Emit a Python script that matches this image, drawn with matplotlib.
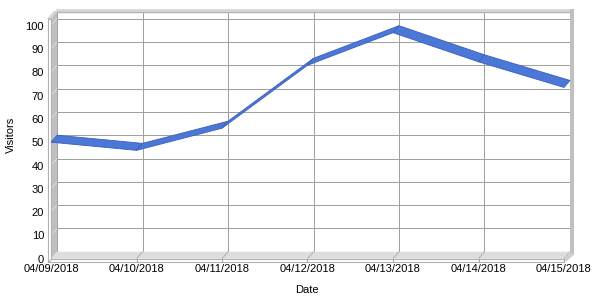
import matplotlib
matplotlib.use('Agg')
import matplotlib.pyplot as plt
from matplotlib.patches import Polygon
import numpy as np

# ---- data ----
dates = ["04/09/2018", "04/10/2018", "04/11/2018", "04/12/2018",
         "04/13/2018", "04/14/2018", "04/15/2018"]
visitors = [50, 46.5, 56, 83, 97, 84.5, 73.5]
y_ticks = list(range(0, 101, 10))

plt.rcParams['font.family'] = ['Liberation Sans', 'DejaVu Sans']

fig = plt.figure(figsize=(6, 3), dpi=100)
fig.patch.set_facecolor('white')
ax = fig.add_axes([51 / 600, 41.3 / 300, 513 / 600, 233 / 300])
ax.set_xlim(0, len(dates) - 1)
ax.set_ylim(0, 100)
for s in ax.spines.values():
    s.set_visible(False)
ax.patch.set_alpha(0)
ax.set_xticks(range(len(dates)))
ax.set_xticklabels(dates)
ax.set_yticks(y_ticks)
ax.set_yticklabels([str(v) for v in y_ticks])
ax.tick_params(axis='x', length=0, labelsize=8, pad=3.6)
ax.tick_params(axis='y', length=0, labelsize=8, pad=5.0)
ax.set_xlabel('Date', fontsize=8)
ax.set_ylabel('Visitors', fontsize=8)
ax.xaxis.set_label_coords(0.499, -0.114)
ax.yaxis.set_label_coords(-0.068, 0.53)

XMAX = len(dates) - 1
TOP = 103          # wall top in value units
BX, BY = 6, 7      # depth offset in pixels
GRID = '#a0a0a0'
WALL = '#c0c0c0'
FLOOR = '#dedede'


def D(x, y, dx=0.0, dy=0.0):
    p = ax.transData.transform((x, y)) + np.array([dx, dy])
    return ax.transData.inverted().transform(p)


def poly(pts, fc, ec='none', lw=0.0, z=1):
    ax.add_patch(Polygon([D(*p) for p in pts], closed=True, facecolor=fc,
                         edgecolor=ec, linewidth=lw, zorder=z, clip_on=False))


def line(p1, p2, color, lw=0.72, z=2):
    a, b = D(*p1), D(*p2)
    ax.plot([a[0], b[0]], [a[1], b[1]], color=color, lw=lw, zorder=z,
            clip_on=False, solid_capstyle='butt')


# back wall gridlines
for v in y_ticks:
    line((0, v, BX, BY), (XMAX, v, BX, BY), GRID, z=1.5)
for i in range(len(dates)):
    line((i, 0, BX, BY), (i, TOP, BX, BY), GRID, z=1.5)

# top band of back wall
poly([(0, TOP, BX, BY), (XMAX, TOP, BX + 4, BY), (XMAX, TOP, BX + 4, BY + 3),
      (0, TOP, BX - 1, BY + 3)], '#d8d8d8', z=2)
line((0, TOP, BX, BY), (XMAX, TOP, BX, BY), '#b4b4b4', lw=1.0, z=2.1)

# right wall band
poly([(XMAX, 0, BX, BY - 3), (XMAX, TOP, BX, BY + 3), (XMAX, TOP, BX + 4, BY + 3),
      (XMAX, 0, BX + 4, BY - 3)], WALL, z=2)

# left wall side face
poly([(0, 0), (0, TOP), (0, TOP, BX, BY), (0, 0, BX, BY)], WALL, z=2)
for v in y_ticks[1:]:
    line((0, v), (0, v, BX, BY), '#e0e0e0', lw=0.6, z=2.2)

# floor top face
poly([(0, 0), (XMAX, 0), (XMAX, 0, BX, BY), (0, 0, BX, BY)], FLOOR, z=2)
for i in range(1, len(dates)):
    line((i, 0), (i, 0, BX, BY), '#b0b0b0', lw=0.72, z=2.2)

# floor right end chamfer
poly([(XMAX, 0), (XMAX, 0, BX, BY), (XMAX, 0, BX + 4, BY - 3), (XMAX, 0, 2, -3)],
     '#d0d0d0', z=2.3)

# floor front face
poly([(0, 0, -3, 0), (XMAX, 0), (XMAX, 0, 0, -3), (0, 0, -3, -3)],
     'white', ec='#b0b0b0', lw=0.8, z=2.4)
for i in range(1, len(dates)):
    line((i, 0), (i, 0, 0, -3), '#a0a0a0', lw=0.72, z=2.5)

# left wall front face and top
poly([(0, 0, -3, -3), (0, TOP, -3, 0), (0, TOP), (0, 0)],
     'white', ec='#b0b0b0', lw=0.8, z=2.4)
poly([(0, TOP, -3, 0), (0, TOP), (0, TOP, BX, BY), (0, TOP, BX - 3, BY)],
     '#dcdcdc', ec='#c0c0c0', lw=0.5, z=2.4)

# ribbon line series
for i in range(len(visitors) - 1):
    pts = [(i, visitors[i]), (i + 1, visitors[i + 1]),
           (i + 1, visitors[i + 1], BX, BY), (i, visitors[i], BX, BY)]
    poly(pts, '#4b77d6', ec='#3a5fbd', lw=0.6, z=5)

fig.savefig('out.png', dpi=100)
